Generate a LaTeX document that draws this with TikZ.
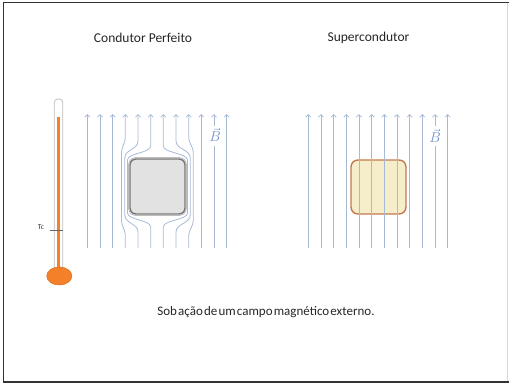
\documentclass[tikz,border=0pt]{standalone}
\usepackage{fontspec}
\setmainfont{Carlito}
\newfontfamily\tightfont{Carlito}[WordSpace=0.4]
\usetikzlibrary{arrows.meta}

\definecolor{fieldblue}{RGB}{166,186,214}
\definecolor{labelblue}{RGB}{112,146,200}
\definecolor{boxgray}{RGB}{226,226,226}
\definecolor{edgegray}{RGB}{118,118,118}
\definecolor{boxyellow}{RGB}{246,237,202}
\definecolor{edgebrown}{RGB}{194,122,78}
\definecolor{thermoorange}{RGB}{245,128,42}

\tikzset{
	fline/.style={fieldblue, line width=0.8pt, -{Straight Barb[length=2.6pt,width=5pt]}},
	fbare/.style={fieldblue, line width=0.8pt},
	title/.style={font=\fontsize{13.5}{16}\selectfont, text=black!85},
	blabel/.style={text=labelblue, font=\fontsize{14}{16}\selectfont, inner sep=1pt},
}

\begin{document}
\begin{tikzpicture}[x=1pt,y=-1pt]
	\useasboundingbox (0,0) rectangle (509,387);

	% frame
	\draw[line width=1.7pt, black!80] (509,2.5) -- (3.5,2.5) -- (3.5,382) -- (509,382);
	\draw[black!15, line width=0.6pt] (507.6,3.4) -- (507.6,381.1);

	% titles
	\node[title] (cp) at (143,38) {Condutor Perfeito};
	\node[title] (sc) at (368.5,38) {Supercondutor};

	% thermometer
	\draw[black!25, fill=white, line width=0.8pt, rounded corners=3.5pt] (54.3,270) -- (54.3,99) -- (62.7,99) -- (62.7,270);
	\fill[thermoorange] (56.9,117.5) rectangle (59.9,270);
	\draw[thermoorange!85!black, fill=thermoorange, line width=0.5pt] (59.3,276) ellipse [x radius=12.6pt, y radius=9pt];
	\draw[black!60, line width=0.8pt] (50,230) -- (62.7,230);
	\node[font=\fontsize{7.5}{8}\selectfont, text=black!80, inner sep=0.5pt] (tc) at (41,227.5) {Tc};

	% perfect conductor: body, then field lines bent around it
	\draw[black!40, line width=0.5pt, rounded corners=7pt] (128.6,157.6) rectangle (186.4,215.4);
	\draw[edgegray, fill=boxgray, line width=1.4pt, rounded corners=6pt] (130,159) rectangle (185,214);

	\foreach \x in {87.3,100,112.7,201.3,226.7}
		\draw[fline] (\x,248) -- (\x,114);
	\draw[fbare] (214,248) -- (214,146);
	\draw[fline] (214,126) -- (214,114);
	\node[blabel] (b1) at (215,135) {$\vec{B}$};

	\foreach \xo/\xh/\ys/\ye in {150.7/127.5/146/160, 138/124.8/141/158, 125.3/121.5/136/154,
			163.3/187.5/146/160, 176/190.3/141/158, 188.7/193.3/136/154}
		\draw[fline] (\xo,248) -- (\xo,{373-\ys})
			.. controls (\xo,{373-(\ys+\ye)/2}) and (\xh,{373-(\ys+\ye)/2}) .. (\xh,{373-\ye})
			-- (\xh,\ye)
			.. controls (\xh,{(\ys+\ye)/2}) and (\xo,{(\ys+\ye)/2}) .. (\xo,\ys)
			-- (\xo,114);

	% superconductor: field goes straight through
	\draw[edgebrown, fill=boxyellow, line width=1.4pt, rounded corners=7pt] (351,160) rectangle (406,214);

	\foreach \x in {308.3,321,333.7,346.3,359,371.7,384.3,397,409.7,422.3,447.7}
		\draw[fline] (\x,248) -- (\x,114);
	\draw[fbare] (435,248) -- (435,146);
	\draw[fline] (435,126) -- (435,114);
	\node[blabel] (b2) at (435,136) {$\vec{B}$};

	% caption
	\node[font=\tightfont\fontsize{13}{15}\selectfont, text=black!85] (cap) at (266,312) {Sob ação de um campo magnético externo.};
\end{tikzpicture}
\end{document}
